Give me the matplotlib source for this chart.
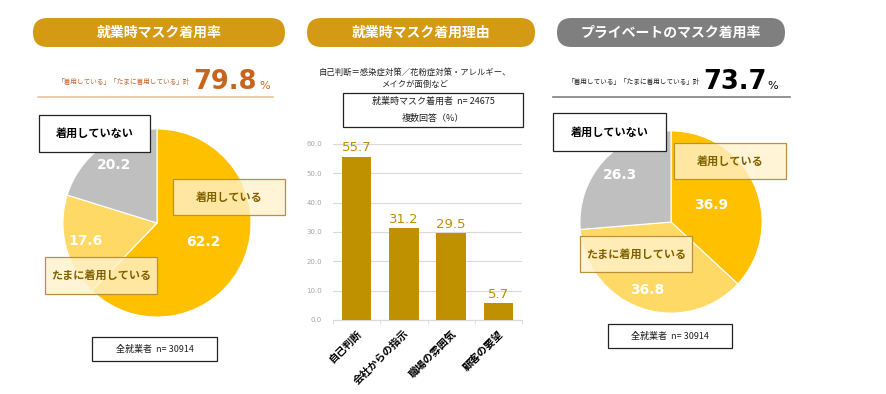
import numpy as np
import matplotlib
matplotlib.use("Agg")
import matplotlib.pyplot as plt
from matplotlib.patches import FancyBboxPatch, Rectangle

plt.rcParams["font.family"] = ["Noto Sans CJK JP", "DejaVu Sans"]

# data
pie_labels = ["着用している", "たまに着用している", "着用していない"]
work_values = [62.2, 17.6, 20.2]
private_values = [36.9, 36.8, 26.3]
work_total = 79.8
private_total = 73.7
reason_labels = ["自己判断", "会社からの指示", "職場の雰囲気", "顧客の要望"]
reason_values = [55.7, 31.2, 29.5, 5.7]
n_all = 30914
n_wearers = 24675

pie_colors = ["#FFC000", "#FFD966", "#BFBFBF"]
GOLD = "#D49A13"
BAR = "#BF9000"
BROWN = "#7F6000"

W, H = 886, 394
fig = plt.figure(figsize=(W / 100, H / 100), dpi=100)


def px_axes(left, top, w, h, **kw):
    return fig.add_axes([left / W, 1 - (top + h) / H, w / W, h / H], **kw)


def draw_pie(ax, values, factors):
    wedges, _ = ax.pie(values, colors=pie_colors, startangle=90, counterclock=False,
                       wedgeprops=dict(edgecolor="white", linewidth=0.8))
    ax.set_xlim(-1.01, 1.01)
    ax.set_ylim(-1.01, 1.01)
    for w, v, f in zip(wedges, values, factors):
        ang = np.deg2rad((w.theta1 + w.theta2) / 2)
        ax.text(f * np.cos(ang), f * np.sin(ang), f"{v:.1f}", ha="center", va="center",
                color="white", fontsize=10, fontweight="bold", family="DejaVu Sans")


# pies
ax1 = px_axes(62, 128, 190, 190)
draw_pie(ax1, work_values, [0.53, 0.78, 0.77])
ax3 = px_axes(579, 130, 184, 184)
draw_pie(ax3, private_values, [0.48, 0.79, 0.76])

# bar chart
ax2 = px_axes(333, 144, 189, 176)
x = np.arange(len(reason_values))
ax2.bar(x, reason_values, width=0.62, color=BAR, zorder=3)
for xi, v in zip(x, reason_values):
    ax2.annotate(f"{v:.1f}", (xi, v), xytext=(0, 2), textcoords="offset points",
                 ha="center", va="bottom", color=BAR, fontsize=9.5, family="DejaVu Sans")
ax2.set_xlim(-0.5, 3.5)
ax2.set_ylim(0, 60)
ax2.set_yticks(np.arange(0, 61, 10))
ax2.set_yticklabels([f"{t:.1f}" for t in np.arange(0, 61, 10)], fontsize=5, color="#A6A6A6",
                    family="DejaVu Sans")
ax2.tick_params(axis="y", length=0, pad=8)
ax2.grid(axis="y", color="#D9D9D9", linewidth=0.8, zorder=0)
for s in ["left", "top", "right"]:
    ax2.spines[s].set_visible(False)
ax2.spines["bottom"].set_color("#D9D9D9")
ax2.set_xticks(x)
ax2.set_xticklabels(reason_labels, rotation=45, ha="right", rotation_mode="anchor",
                    fontsize=7.5, fontweight="bold")
ax2.tick_params(axis="x", length=0, pad=6)
ax2.set_xticks(np.arange(-0.5, 3.6, 1), minor=True)
ax2.tick_params(axis="x", which="minor", length=3, color="#D9D9D9")

# overlay for titles, boxes, notes
ov = fig.add_axes([0, 0, 1, 1], zorder=10)
ov.set_xlim(0, W)
ov.set_ylim(H, 0)
ov.axis("off")
ov.patch.set_alpha(0)


def pill(x0, x1, y0, y1, color, text):
    h = y1 - y0
    ov.add_patch(FancyBboxPatch((x0, y0), x1 - x0, h, boxstyle=f"round,pad=0,rounding_size={h / 2}",
                                facecolor=color, edgecolor="none"))
    ov.text((x0 + x1) / 2, (y0 + y1) / 2, text, ha="center", va="center", color="white",
            fontsize=10, fontweight="bold")


def label_box(x0, x1, y0, y1, text, cream=True, fs=8):
    if cream:
        ov.add_patch(Rectangle((x0, y0), x1 - x0, y1 - y0, facecolor="#FFF2CC", alpha=0.8,
                               edgecolor="none"))
        ov.add_patch(Rectangle((x0, y0), x1 - x0, y1 - y0, facecolor="none", edgecolor="#B8923A",
                               linewidth=0.9))
        col = BROWN
    else:
        ov.add_patch(Rectangle((x0, y0), x1 - x0, y1 - y0, facecolor="white", edgecolor="#222222",
                               linewidth=0.9))
        col = "black"
    ov.text((x0 + x1) / 2, (y0 + y1) / 2, text, ha="center", va="center", color=col,
            fontsize=fs, fontweight="bold")


def plain_box(x0, x1, y0, y1, lines):
    ov.add_patch(Rectangle((x0, y0), x1 - x0, y1 - y0, facecolor="white", edgecolor="#222222",
                           linewidth=0.9))
    n = len(lines)
    for i, t in enumerate(lines):
        yc = y0 + (y1 - y0) * (i + 0.5) / n
        ov.text((x0 + x1) / 2, yc, t, ha="center", va="center", fontsize=6.5, color="#222222")


pill(33, 285, 18, 47, GOLD, "就業時マスク着用率")
pill(307, 535, 18, 47, GOLD, "就業時マスク着用理由")
pill(557, 785, 18, 47, "#7F7F7F", "プライベートのマスク着用率")

# totals
sub = "「着用している」「たまに着用している」計"
ov.text(190, 84, sub, ha="right", va="baseline", fontsize=4.8, color="#C0652A")
ov.text(193, 89, f"{work_total}", ha="left", va="baseline", fontsize=18.5, fontweight="bold",
        color="#C8641E", family="DejaVu Sans")
ov.text(259, 89, "%", ha="left", va="baseline", fontsize=8, color="#C8641E", family="DejaVu Sans")
ov.plot([38, 273], [97, 97], color="#E8C39E", linewidth=1.2)

ov.text(700, 84, sub, ha="right", va="baseline", fontsize=4.8, color="#222222")
ov.text(703, 89, f"{private_total}", ha="left", va="baseline", fontsize=18.5, fontweight="bold",
        color="black", family="DejaVu Sans")
ov.text(767, 89, "%", ha="left", va="baseline", fontsize=8, color="black", family="DejaVu Sans")
ov.plot([553, 790], [97, 97], color="#808080", linewidth=1.2)

# middle notes
ov.text(415, 72, "自己判断＝感染症対策／花粉症対策・アレルギー、", ha="center", va="center",
        fontsize=6, color="#222222")
ov.text(415, 84, "メイクが面倒など", ha="center", va="center", fontsize=6, color="#222222")
plain_box(343, 523, 93, 127, [f"就業時マスク着用者  n= {n_wearers}", "複数回答（%）"])

# pie labels
label_box(39, 150, 115, 152, pie_labels[2], cream=False)
label_box(173, 285, 179, 215, pie_labels[0])
label_box(45, 157, 257, 294, pie_labels[1])
plain_box(92, 217, 337, 361, [f"全就業者  n= {n_all}"])

label_box(553, 666, 113, 151, pie_labels[2], cream=False)
label_box(674, 786, 143, 179, pie_labels[0])
label_box(580, 692, 236, 272, pie_labels[1])
plain_box(608, 732, 324, 348, [f"全就業者  n= {n_all}"])

fig.savefig("out.png", dpi=100, facecolor="white")
